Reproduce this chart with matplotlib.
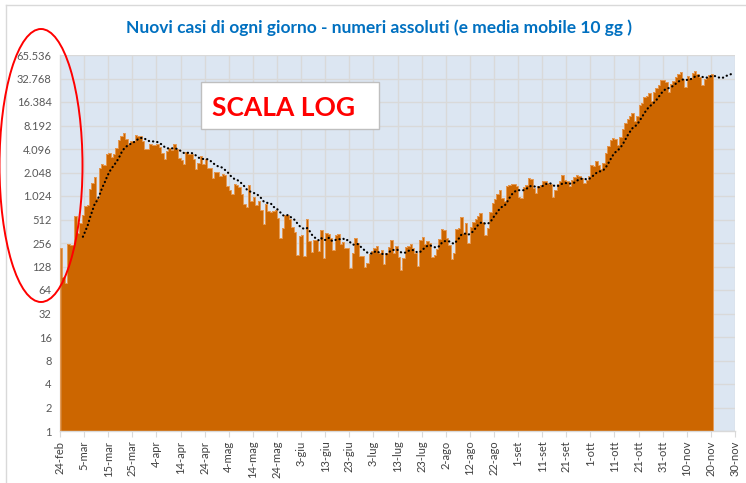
import numpy as np
import pandas as pd
import matplotlib
matplotlib.use("Agg")
import matplotlib.pyplot as plt
from matplotlib.patches import Ellipse, Rectangle
from matplotlib.lines import Line2D
from matplotlib.ticker import FixedLocator, FixedFormatter, NullLocator

# ---------------- data ----------------
start_date = "2020-02-24"
daily_cases = [
    # feb 24 - feb 29
    221, 93, 78, 250, 238, 240,
    # mar
    566, 342, 466, 587, 769, 778, 1247, 1492, 1797, 977,
    2313, 2651, 2547, 3497, 3590, 3233, 3526, 4207, 5322, 5986,
    6557, 5560, 4789, 5249, 5210, 6153, 5959, 5974, 5217, 4050, 4053,
    # apr
    4782, 4668, 4585, 4805, 4316, 3599, 3039, 3836, 4204, 3951,
    4694, 4092, 3153, 2972, 2667, 3786, 3493, 3491, 3047, 2256,
    2729, 3370, 2646, 3021, 2357, 2324, 1739, 2091, 2086, 1872,
    # may
    1965, 1900, 1389, 1221, 1075, 1444, 1401, 1327, 1083, 802,
    744, 1402, 888, 992, 789, 875, 675, 451, 813, 665,
    642, 652, 669, 531, 300, 397, 584, 593, 516, 416, 355,
    # jun
    178, 318, 321, 177, 518, 270, 197, 280, 283, 202,
    379, 163, 346, 338, 301, 210, 328, 331, 251, 264,
    224, 218, 122, 190, 296, 259, 175, 174, 126, 142,
    # jul
    187, 201, 223, 235, 192, 208, 138, 193, 229, 276,
    188, 234, 169, 114, 163, 230, 233, 249, 219, 190,
    129, 282, 306, 252, 275, 255, 170, 181, 212, 289, 386,
    # aug
    379, 295, 239, 159, 190, 384, 402, 552, 347, 463,
    259, 412, 481, 523, 574, 629, 479, 320, 403, 642,
    845, 947, 1071, 1210, 953, 878, 1367, 1411, 1460, 1444, 1365,
    # sep
    996, 978, 1326, 1397, 1733, 1695, 1297, 1108, 1370, 1434,
    1597, 1616, 1501, 1458, 1008, 1229, 1452, 1585, 1907, 1638,
    1587, 1392, 1640, 1786, 1912, 1869, 1766, 1494, 1648, 1851,
    # oct
    2548, 2499, 2844, 2578, 2257, 2677, 3678, 4458, 5372, 5724,
    5456, 4619, 5901, 7332, 8804, 10010, 10925, 11705, 9338, 10874,
    15199, 16079, 19143, 19644, 21273, 17012, 21994, 24991, 26831, 31084, 31758,
    # nov 1 - nov 20
    29907, 22253, 28244, 30550, 34505, 37809, 39811, 32616, 25271, 35098,
    32961, 37978, 40902, 37255, 33979, 27354, 32191, 34283, 36176, 37242,
]
ma_window = 10
# moving-average points drawn after the last bar
ma_tail = [35300, 34500, 33600, 33200, 34000, 35500, 36500, 37400]

tick_labels = ["24-feb", "5-mar", "15-mar", "25-mar", "4-apr", "14-apr", "24-apr",
               "4-mag", "14-mag", "24-mag", "3-giu", "13-giu", "23-giu", "3-lug",
               "13-lug", "23-lug", "2-ago", "12-ago", "22-ago", "1-set", "11-set",
               "21-set", "1-ott", "11-ott", "21-ott", "31-ott", "10-nov", "20-nov",
               "30-nov"]
y_ticks = [2 ** k for k in range(17)]
y_tick_labels = [f"{v:,}".replace(",", ".") for v in y_ticks]

title = "Nuovi casi di ogni giorno - numeri assoluti (e media mobile 10 gg )"
note = "SCALA LOG"

# ---------------- figure ----------------
W, H = 746, 483
fig = plt.figure(figsize=(W / 100, H / 100), dpi=100)
fig.patch.set_facecolor("white")

def fx(px):
    return px / W

def fy(py):
    return 1 - py / H

ax = fig.add_axes([fx(60), fy(431), fx(735) - fx(60), fy(55) - fy(431)])
ax.set_facecolor("#DCE6F2")

vals = np.array(daily_cases, dtype=float)
days = np.arange(len(vals))
bar_color = "#CC6600"
ax.bar(days, vals, width=1.0, align="edge", color=bar_color, edgecolor="none",
       linewidth=0, zorder=2)
# light outline along the top profile of the bars
sx = np.concatenate([[0], np.repeat(days, 2)[1:], [len(vals), len(vals)]])
sy_core = np.repeat(vals, 2)
sx = np.concatenate([[0], np.ravel(np.column_stack([days, days + 1])), [len(vals)]])
sy = np.concatenate([[1], sy_core, [1]])
ax.plot(sx, sy, color="#E59A55", lw=0.7, zorder=3)

# moving average
ma = pd.Series(vals).rolling(ma_window).mean().to_numpy()
ma_x = np.concatenate([days[ma_window - 1:], len(vals) - 1 + np.arange(1, len(ma_tail) + 1)])
ma_y = np.concatenate([ma[ma_window - 1:], ma_tail])
ax.plot(ma_x + 0.5, ma_y, color="black", lw=1.6, linestyle=(0, (0.1, 1.8)),
        dash_capstyle="round", zorder=4)

ax.set_yscale("log", base=2)
ax.set_ylim(1, 65536)
ax.set_xlim(0, 280)
ax.yaxis.set_major_locator(FixedLocator(y_ticks))
ax.yaxis.set_major_formatter(FixedFormatter(y_tick_labels))
ax.yaxis.set_minor_locator(NullLocator())
xt = np.arange(0, 281, 10)
ax.set_xticks(xt)
ax.set_xticklabels(tick_labels, rotation=90, fontsize=8, color="#404040",
                   family=["Lato", "DejaVu Sans"])
for lab in ax.get_yticklabels():
    lab.set_fontsize(8)
    lab.set_color("#595959")
    lab.set_family(["Lato", "DejaVu Sans"])

ax.grid(True, which="major", color="#D9D9D9", lw=1.0, zorder=0)
ax.set_axisbelow(True)
ax.tick_params(axis="y", length=0, pad=6)
ax.tick_params(axis="x", length=4, color="#D9D9D9", pad=3)
for s in ["top", "right"]:
    ax.spines[s].set_visible(False)
for s in ["left", "bottom"]:
    ax.spines[s].set_color("#D9D9D9")
    ax.spines[s].set_linewidth(1.0)

# title
fig.text(fx(379), fy(28), title, ha="center", va="center", fontsize=12.5,
         fontweight="bold", color="#0070C0", family=["Lato", "DejaVu Sans"])

# SCALA LOG box
fig.patches.append(Rectangle((fx(201), fy(129)), fx(379) - fx(201), fy(82) - fy(129),
                             transform=fig.transFigure, facecolor="white",
                             edgecolor="#BFBFBF", lw=1.0, zorder=5))
fig.text(fx(284), fy(108), note, ha="center", va="center", fontsize=19,
         fontweight="bold", color="#FF0000", family=["Lato", "DejaVu Sans"], zorder=6)

# red ellipse around the y axis labels
fig.patches.append(Ellipse((fx(41), fy(165.5)), 83 / W, 273 / H,
                           transform=fig.transFigure, facecolor="none",
                           edgecolor="#FF0000", lw=1.4, zorder=6))

# outer chart border
fig.lines.append(Line2D([fx(6), fx(6)], [fy(5), 0], transform=fig.transFigure,
                        color="#D9D9D9", lw=1.0))
fig.lines.append(Line2D([fx(6), 1], [fy(5), fy(5)], transform=fig.transFigure,
                        color="#D9D9D9", lw=1.0))

fig.savefig("out.png", dpi=100, facecolor="white")
